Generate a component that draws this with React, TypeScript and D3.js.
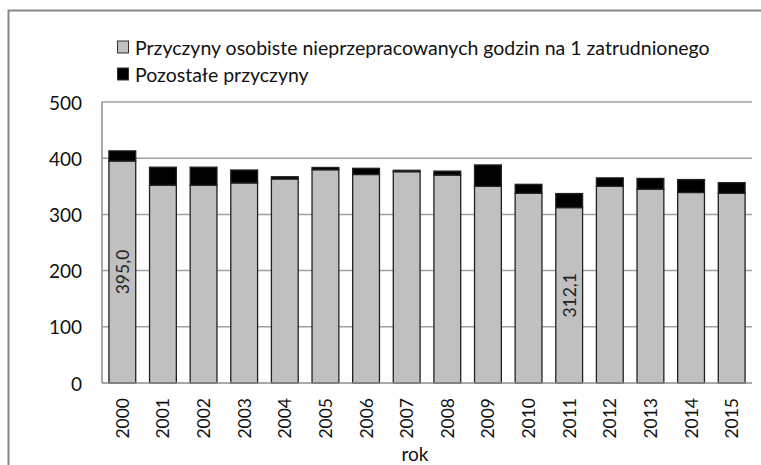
import * as d3 from "d3";

const years = ["2000", "2001", "2002", "2003", "2004", "2005", "2006", "2007", "2008", "2009", "2010", "2011", "2012", "2013", "2014", "2015"];
// przyczyny osobiste (grey part)
const personal = [395.0, 352, 352, 356, 363, 379.5, 371, 376, 370, 350, 337.5, 312.1, 350, 345, 339, 337.5];
// pozostałe przyczyny (black part)
const other = [18, 32, 32, 23, 4, 4, 11, 2.5, 7, 38, 16, 25, 15, 19, 23, 19];
const yTicks = [0, 100, 200, 300, 400, 500];
const labelled = ["2000", "2011"];
const legendLabels = ["Przyczyny osobiste nieprzepracowanych godzin na 1 zatrudnionego", "Pozostałe przyczyny"];
const legendColors = ["#c0c0c0", "#000000"];

const width = 761;
const height = 465;
const margin = { left: 102, right: 9, top: 102, bottom: 82 };

function App() {
  const x = d3
    .scaleBand()
    .domain(years)
    .range([margin.left, width - margin.right])
    .paddingInner(0.34)
    .paddingOuter(0.17);

  const y = d3
    .scaleLinear()
    .domain([0, 500])
    .range([height - margin.bottom, margin.top]);

  const font = "Lato, 'Open Sans', sans-serif";

  return (
    <svg
      width={width}
      height={height}
      style={{ position: "absolute", left: 0, top: 0, background: "#fff" }}
    >
      <rect x={8.5} y={10.5} width={760} height={460} fill="#fff" stroke="#868686" strokeWidth={2} />

      {/* legend */}
      {legendLabels.map((l, i) => (
        <g key={l} transform={`translate(117, ${47 + i * 27})`}>
          <rect x={0.5} y={-6} width={11} height={12} fill={legendColors[i]} stroke="#333" strokeWidth={1} />
          <text x={18} y={0} dominantBaseline="central" fontFamily={font} fontSize={19.5} fill="#111">
            {l}
          </text>
        </g>
      ))}

      {/* grid */}
      {yTicks.map((t) => (
        <g key={t}>
          {t > 0 && (
            <line x1={margin.left} x2={width - margin.right} y1={y(t)} y2={y(t)} stroke="#a0a0a0" strokeWidth={1.5} />
          )}
          <text x={82} y={y(t)} textAnchor="end" dominantBaseline="central" fontFamily={font} fontSize={19} fill="#111">
            {t}
          </text>
        </g>
      ))}

      {/* bars */}
      {years.map((yr, i) => {
        const x0 = x(yr) as number;
        const bw = x.bandwidth();
        const g = personal[i];
        const o = other[i];
        return (
          <g key={yr}>
            <rect x={x0} y={y(g)} width={bw} height={y(0) - y(g)} fill="#c0c0c0" stroke="#222" strokeWidth={1.3} />
            <rect x={x0} y={y(g + o)} width={bw} height={y(g) - y(g + o)} fill="#000" stroke="#222" strokeWidth={1.3} />
            {labelled.includes(yr) && (
              <text
                transform={`translate(${x0 + bw / 2}, ${y(g / 2)}) rotate(-90)`}
                textAnchor="middle"
                dominantBaseline="central"
                fontFamily={font}
                fontSize={17.5}
                fill="#222"
              >
                {g.toFixed(1).replace(".", ",")}
              </text>
            )}
            <text
              transform={`translate(${x0 + bw / 2}, ${y(0) + 15}) rotate(-90)`}
              textAnchor="end"
              dominantBaseline="central"
              fontFamily={font}
              fontSize={17.5}
              fill="#111"
            >
              {yr}
            </text>
          </g>
        );
      })}

      {/* axes */}
      <line x1={margin.left} x2={margin.left} y1={y(500)} y2={y(0)} stroke="#8c8c8c" strokeWidth={1.5} />
      <line x1={margin.left} x2={width - margin.right} y1={y(0)} y2={y(0)} stroke="#8c8c8c" strokeWidth={1.5} />

      <text x={415} y={453} textAnchor="middle" dominantBaseline="central" fontFamily={font} fontSize={19} fill="#111">
        rok
      </text>
    </svg>
  );
}

export default App;
